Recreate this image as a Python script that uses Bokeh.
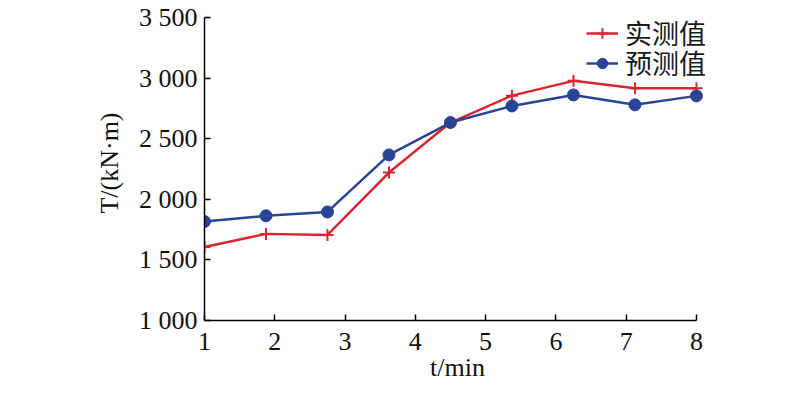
from bokeh.plotting import figure
from bokeh.models import FixedTicker, Range1d, Legend, LegendItem
from bokeh.embed import file_html
from bokeh.resources import INLINE

# ---- data ----
t_min = [1, 1.875, 2.75, 3.625, 4.5, 5.375, 6.25, 7.125, 8]
measured = [1606, 1715, 1706, 2221, 2634, 2856, 2978, 2917, 2917]
predicted = [1817, 1864, 1896, 2367, 2634, 2771, 2862, 2780, 2854]
series_names = ["实测值", "预测值"]
x_ticks = [1, 2, 3, 4, 5, 6, 7, 8]
y_ticks = [1000, 1500, 2000, 2500, 3000, 3500]
y_tick_labels = ["1 000", "1 500", "2 000", "2 500", "3 000", "3 500"]

RED = "#d9252f"
BLUE = "#2a4495"
SERIF = "Liberation Serif"

p = figure(width=792, height=392, output_backend="svg", toolbar_location=None,
           x_range=Range1d(1, 8.2), y_range=Range1d(1000, 3600),
           min_border_left=204, min_border_right=82, min_border_top=5, min_border_bottom=72)
p.outline_line_color = None
p.grid.visible = False
p.background_fill_color = "white"

r1 = p.line(t_min, measured, line_color=RED, line_width=2.5)
r1m = p.scatter(t_min, measured, marker="cross", size=12, line_color=RED, line_width=2)
r2 = p.line(t_min, predicted, line_color=BLUE, line_width=2.5)
r2m = p.scatter(t_min, predicted, marker="circle", size=12, fill_color=BLUE, line_color=BLUE)

for ax in (p.xaxis[0], p.yaxis[0]):
    ax.axis_line_color = "black"
    ax.axis_line_width = 1.5
    ax.major_tick_line_color = "black"
    ax.major_tick_line_width = 1.5
    ax.major_tick_in = 6
    ax.major_tick_out = 0
    ax.minor_tick_line_color = None
    ax.major_label_text_font = SERIF
    ax.major_label_text_font_size = "26px"
    ax.major_label_text_color = "#111111"
    ax.axis_label_text_font = SERIF
    ax.axis_label_text_font_size = "26px"
    ax.axis_label_text_font_style = "normal"
    ax.axis_label_text_color = "#111111"

p.xaxis.ticker = FixedTicker(ticks=x_ticks)
p.xaxis.bounds = (1, 8)
p.xaxis.major_label_standoff = 12
p.xaxis.axis_label = "t/min"
p.xaxis.axis_label_standoff = 0

p.yaxis.ticker = FixedTicker(ticks=y_ticks)
p.yaxis.bounds = (1000, 3500)
p.yaxis.major_label_overrides = {v: s for v, s in zip(y_ticks, y_tick_labels)}
p.yaxis.major_label_standoff = 7
p.yaxis.axis_label = "T/(kN·m)"
p.yaxis.axis_label_standoff = 12

common = dict(padding=0, spacing=0, margin=0, glyph_width=32, glyph_height=26,
              label_height=26, label_standoff=7,
              label_text_font="Noto Sans CJK SC", label_text_font_size="27px",
              label_text_color="#1a1a1a", border_line_color=None, background_fill_alpha=0)
leg1 = Legend(items=[LegendItem(label=series_names[0], renderers=[r1, r1m])],
              location=(382, 268), **common)
leg2 = Legend(items=[LegendItem(label=series_names[1], renderers=[r2, r2m])],
              location=(382, 238), **common)
p.add_layout(leg1)
p.add_layout(leg2)

open("out.html", "w").write(file_html(p, INLINE))
